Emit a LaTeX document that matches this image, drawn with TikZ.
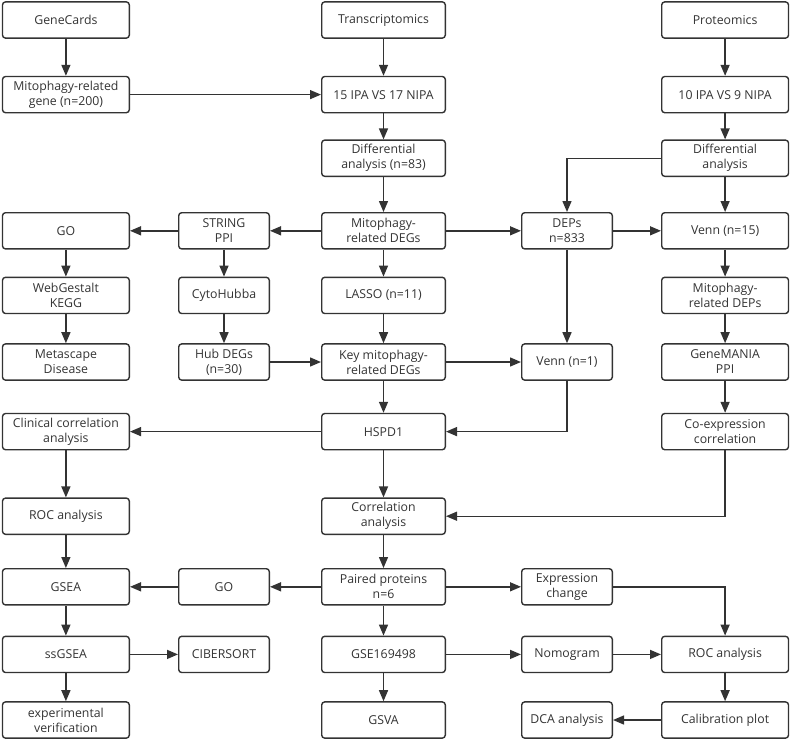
\documentclass[tikz,border=0pt]{standalone}
\usepackage{fontspec}
\setmainfont{Open Sans}
\usepackage{xcolor}
\usetikzlibrary{positioning,arrows.meta}
\definecolor{ink}{HTML}{333333}

\begin{document}
\begin{tikzpicture}[
  x=1pt, y=1pt,
  box/.style={draw=ink, line width=1.4pt, rounded corners=3pt, align=center,
    minimum height=36.2pt, inner sep=2pt, text=ink, font=\fontsize{12.3}{15}\selectfont},
  wide/.style={box, minimum width=126.8pt},
  mid/.style={box, minimum width=123.6pt},
  slim/.style={box, minimum width=90.6pt},
  ar/.style={draw=ink, line width=1.4pt, -{Triangle[length=11pt,width=9pt]}}]

  \useasboundingbox (0,0) rectangle (791,-740);

  % transcriptomics spine
  \node[mid] (trans) at (383.5,-20) {Transcriptomics};
  \node[mid, below=37pt of trans] (ipa15) {15 IPA VS 17 NIPA};
  \node[mid, below=26pt of ipa15] (diffT) {Differential\\ analysis (n=83)};
  \node[mid, below=35pt of diffT] (mdeg) {Mitophagy-\\ related DEGs};
  \node[mid, below=27pt of mdeg] (lasso) {LASSO (n=11)};
  \node[mid, below=29pt of lasso] (key) {Key mitophagy-\\ related DEGs};
  \node[mid, below=32pt of key] (hspd) {HSPD1};
  \node[mid, below=47pt of hspd] (corr) {Correlation\\ analysis};
  \node[mid, below=33pt of corr] (paired) {Paired proteins\\ n=6};
  \node[mid, below=30pt of paired] (gse) {GSE169498};
  \node[mid, below=28pt of gse] (gsva) {GSVA};

  % left side
  \node[wide, left=191pt of trans] (genec) {GeneCards};
  \node[wide, left=191pt of ipa15] (mgene) {Mitophagy-related\\ gene (n=200)};
  \node[slim, left=51pt of mdeg] (string) {STRING\\ PPI};
  \node[wide, left=48pt of string] (goA) {GO};
  \node[slim, left=51pt of lasso] (cyto) {CytoHubba};
  \node[wide, left=48pt of cyto] (webg) {WebGestalt\\ KEGG};
  \node[slim, left=51pt of key] (hub) {Hub DEGs\\ (n=30)};
  \node[wide, left=48pt of hub] (meta) {Metascape\\ Disease};
  \node[wide, left=191pt of hspd] (clin) {Clinical correlation\\ analysis};
  \node[wide, left=191pt of corr] (rocA) {ROC analysis};
  \node[slim, left=51pt of paired] (goB) {GO};
  \node[wide, left=48pt of goB] (gsea) {GSEA};
  \node[slim, left=51pt of gse] (cib) {CIBERSORT};
  \node[wide, left=48pt of cib] (ssgsea) {ssGSEA};
  \node[wide, left=191pt of gsva] (exper) {experimental\\ verification};

  % proteomics side
  \node[wide, right=215pt of trans] (prot) {Proteomics};
  \node[wide, right=215pt of ipa15] (ipa10) {10 IPA VS 9 NIPA};
  \node[wide, right=215pt of diffT] (diffP) {Differential\\ analysis};
  \node[slim, right=75pt of mdeg] (deps) {DEPs\\ n=833};
  \node[wide, right=48pt of deps] (venn15) {Venn (n=15)};
  \node[wide, right=215pt of lasso] (mdep) {Mitophagy-\\ related DEPs};
  \node[slim, right=75pt of key] (venn1) {Venn (n=1)};
  \node[wide, right=48pt of venn1] (genem) {GeneMANIA\\ PPI};
  \node[wide, right=215pt of hspd] (coexp) {Co-expression\\ correlation};
  \node[slim, right=75pt of paired] (expr) {Expression\\ change};
  \node[slim, right=75pt of gse] (nomo) {Nomogram};
  \node[wide, right=48pt of nomo] (rocE) {ROC analysis};
  \node[slim, right=75pt of gsva] (dca) {DCA analysis};
  \node[wide, right=48pt of dca] (calib) {Calibration plot};

  % connectors
  \draw[ar] (genec) -- (mgene);
  \draw[ar] (mgene) -- (ipa15);
  \draw[ar] (trans) -- (ipa15);
  \draw[ar] (ipa15) -- (diffT);
  \draw[ar] (diffT) -- (mdeg);
  \draw[ar] (prot) -- (ipa10);
  \draw[ar] (ipa10) -- (diffP);
  \draw[ar] (diffP) -| (deps);
  \draw[ar] (diffP) -- (venn15);
  \draw[ar] (mdeg) -- (string);
  \draw[ar] (string) -- (goA);
  \draw[ar] (mdeg) -- (deps);
  \draw[ar] (deps) -- (venn15);
  \draw[ar] (mdeg) -- (lasso);
  \draw[ar] (goA) -- (webg);
  \draw[ar] (webg) -- (meta);
  \draw[ar] (string) -- (cyto);
  \draw[ar] (cyto) -- (hub);
  \draw[ar] (hub) -- (key);
  \draw[ar] (lasso) -- (key);
  \draw[ar] (key) -- (venn1);
  \draw[ar] (deps) -- (venn1);
  \draw[ar] (venn15) -- (mdep);
  \draw[ar] (mdep) -- (genem);
  \draw[ar] (genem) -- (coexp);
  \draw[ar] (key) -- (hspd);
  \draw[ar] (venn1) |- (hspd);
  \draw[ar] (hspd) -- (clin);
  \draw[ar] (hspd) -- (corr);
  \draw[ar] (clin) -- (rocA);
  \draw[ar] (coexp) |- (corr);
  \draw[ar] (rocA) -- (gsea);
  \draw[ar] (corr) -- (paired);
  \draw[ar] (paired) -- (goB);
  \draw[ar] (goB) -- (gsea);
  \draw[ar] (gsea) -- (ssgsea);
  \draw[ar] (ssgsea) -- (cib);
  \draw[ar] (ssgsea) -- (exper);
  \draw[ar] (paired) -- (expr);
  \draw[ar] (expr) -| (rocE);
  \draw[ar] (paired) -- (gse);
  \draw[ar] (gse) -- (nomo);
  \draw[ar] (nomo) -- (rocE);
  \draw[ar] (gse) -- (gsva);
  \draw[ar] (rocE) -- (calib);
  \draw[ar] (calib) -- (dca);
\end{tikzpicture}
\end{document}
